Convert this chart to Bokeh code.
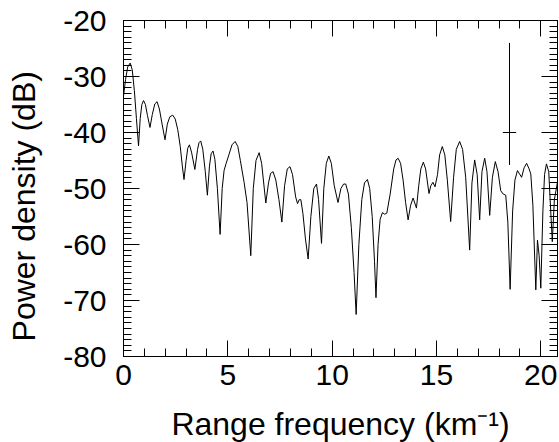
from bokeh.plotting import figure
from bokeh.models import LinearAxis, FixedTicker, Range1d
from bokeh.embed import file_html
from bokeh.resources import INLINE

# ---- data ----
freq = [0.00, 0.10, 0.20, 0.32, 0.42, 0.52, 0.62, 0.72, 0.80, 0.88, 0.96, 1.05, 1.15, 1.27,
        1.38, 1.50, 1.61, 1.72, 1.85, 1.99, 2.10, 2.22, 2.36, 2.48, 2.60, 2.72, 2.82, 2.90,
        3.00, 3.08, 3.16, 3.26, 3.42, 3.55, 3.62, 3.70, 3.80, 3.92, 4.02, 4.12, 4.20, 4.29,
        4.38, 4.50, 4.63, 4.73, 4.82, 4.92, 5.05, 5.20, 5.35, 5.48, 5.60, 5.78, 5.92, 6.10,
        6.22, 6.35, 6.50, 6.62, 6.82, 6.95, 7.05, 7.17, 7.30, 7.45, 7.59, 7.72, 7.85, 7.98,
        8.10, 8.25, 8.34, 8.42, 8.50, 8.60, 8.72, 8.85, 8.98, 9.12, 9.25, 9.35, 9.49, 9.60,
        9.72, 9.84, 9.96, 10.10, 10.28, 10.42, 10.55, 10.65, 10.78, 10.92, 11.05, 11.15,
        11.28, 11.42, 11.55, 11.69, 11.80, 11.92, 12.03, 12.10, 12.20, 12.30, 12.41, 12.52,
        12.62, 12.78, 12.95, 13.06, 13.16, 13.28, 13.40, 13.52, 13.64, 13.76, 13.88, 14.04,
        14.15, 14.25, 14.37, 14.48, 14.64, 14.73, 14.83, 14.93, 15.05, 15.15, 15.28, 15.40,
        15.52, 15.68, 15.82, 15.95, 16.11, 16.25, 16.40, 16.59, 16.70, 16.83, 16.95, 17.07,
        17.18, 17.31, 17.42, 17.55, 17.68, 17.82, 17.95, 18.08, 18.20, 18.32, 18.42, 18.53,
        18.65, 18.76, 18.88, 18.98, 19.08, 19.20, 19.32, 19.44, 19.52, 19.62, 19.76, 19.84,
        19.92, 20.00, 20.10, 20.18, 20.27, 20.38, 20.55, 20.65, 20.80]
power_db = [-33.5, -30.5, -28.3, -27.6, -28.8, -32.5, -37.5, -42.4, -37.5, -35.0, -34.3, -35.0,
            -37.0, -39.1, -36.8, -34.9, -34.5, -35.8, -38.5, -41.3, -38.5, -37.2, -36.9, -37.6,
            -39.5, -42.5, -46.0, -48.4, -45.0, -42.8, -42.2, -43.5, -46.6, -43.0, -41.8, -41.5,
            -43.0, -47.0, -51.2, -46.0, -43.8, -43.3, -44.8, -50.0, -58.2, -50.0, -46.8, -45.5,
            -44.0, -42.2, -41.6, -42.5, -45.0, -48.9, -52.5, -62.0, -50.0, -45.0, -43.6, -45.5,
            -52.6, -49.0, -47.3, -47.0, -48.5, -52.0, -56.0, -49.5, -46.5, -46.1, -47.5, -51.5,
            -52.7, -52.0, -52.0, -54.5, -59.0, -62.6, -55.0, -50.0, -49.2, -52.0, -59.8, -50.0,
            -45.5, -44.2, -45.5, -49.5, -52.5, -50.0, -49.2, -49.2, -51.0, -57.0, -65.0, -72.5,
            -60.0, -52.0, -49.0, -48.4, -50.0, -55.0, -63.0, -69.5, -60.0, -55.5, -54.3, -54.6,
            -54.4, -51.0, -46.5, -44.9, -44.6, -45.5, -48.5, -52.5, -55.6, -53.0, -51.7, -53.5,
            -49.5, -46.5, -45.3, -46.5, -50.9, -49.5, -48.9, -49.7, -47.5, -44.0, -42.5, -44.0,
            -48.5, -55.9, -48.0, -43.0, -41.6, -43.0, -48.0, -61.0, -49.0, -44.9, -47.5, -55.6,
            -47.0, -44.6, -47.0, -54.8, -48.0, -45.2, -47.0, -50.4, -51.0, -51.2, -56.0, -68.0,
            -54.0, -48.5, -46.8, -47.4, -48.0, -46.3, -45.5, -46.5, -47.4, -53.0, -68.1, -59.2,
            -62.0, -67.8, -54.0, -47.5, -45.6, -47.0, -59.5, -52.0, -48.8]

err_x = [18.5]
err_center = [-40.0]
err_low = [-45.8]
err_high = [-24.0]

x_ticks = [0, 5, 10, 15, 20]
x_tick_labels = ["0", "5", "10", "15", "20"]
y_ticks = [-80, -70, -60, -50, -40, -30, -20]
y_tick_labels = ["-80", "-70", "-60", "-50", "-40", "-30", "-20"]

x_title = "Range frequency (km\u207b\u00b9)"
y_title = "Power density (dB)"

FONT = "Liberation Sans"

p = figure(frame_width=434, frame_height=336,
           x_range=Range1d(0, 20.8), y_range=Range1d(-80, -20),
           output_backend="svg", toolbar_location=None,
           min_border_left=123, min_border_top=20, min_border_right=2, min_border_bottom=0,
           background_fill_color="white", border_fill_color="white")
p.outline_line_color = "black"
p.outline_line_width = 1
p.xgrid.visible = False
p.ygrid.visible = False


def style(ax, labels=True):
    ax.axis_line_color = "black"
    ax.major_tick_line_color = "black"
    ax.minor_tick_line_color = "black"
    ax.major_tick_in = 16
    ax.major_tick_out = 0
    ax.minor_tick_in = 8
    ax.minor_tick_out = 0
    ax.major_label_text_font = FONT
    ax.axis_label_text_font = FONT
    ax.axis_label_text_font_style = "normal"
    ax.axis_label_text_color = "black"
    if labels:
        ax.major_label_text_color = "black"
    else:
        ax.major_label_text_color = None
        ax.major_label_text_font_size = "0px"
        ax.major_label_standoff = 0


xa = p.xaxis[0]
xa.ticker = FixedTicker(ticks=x_ticks, minor_ticks=list(range(0, 21)))
style(xa)
xa.major_label_overrides = dict(zip(x_ticks, x_tick_labels))
xa.major_label_text_font_size = "30px"
xa.major_label_standoff = 8
xa.axis_label = x_title
xa.axis_label_text_font_size = "32px"
xa.axis_label_standoff = 18

ya = p.yaxis[0]
ya.ticker = FixedTicker(ticks=y_ticks, minor_ticks=list(range(-80, -19)))
style(ya)
ya.major_label_overrides = dict(zip(y_ticks, y_tick_labels))
ya.major_label_text_font_size = "30px"
ya.major_label_standoff = 17
# trailing no-break spaces nudge the centred title slightly downwards, as in the reference
ya.axis_label = y_title + "\u00a0" * 4
ya.axis_label_text_font_size = "32px"
ya.axis_label_standoff = 18

top = LinearAxis(ticker=FixedTicker(ticks=x_ticks, minor_ticks=list(range(0, 21))))
style(top, labels=False)
p.add_layout(top, "above")
right = LinearAxis(ticker=FixedTicker(ticks=y_ticks, minor_ticks=list(range(-80, -19))))
style(right, labels=False)
p.add_layout(right, "right")

p.line(freq, power_db, line_color="black", line_width=1.0)

# error bar
cap = 0.32
p.segment(x0=err_x, y0=err_low, x1=err_x, y1=err_high, line_color="black", line_width=1.0)
p.segment(x0=[v - cap for v in err_x], y0=err_center, x1=[v + cap for v in err_x], y1=err_center,
          line_color="black", line_width=1.0)

open("out.html", "w").write(file_html(p, INLINE))
